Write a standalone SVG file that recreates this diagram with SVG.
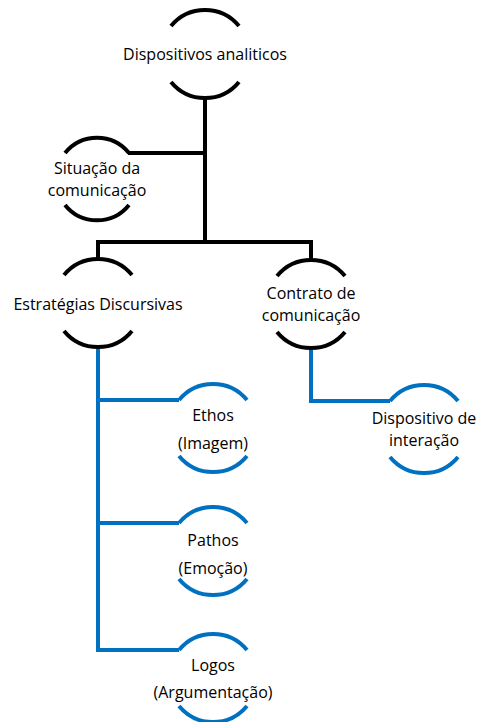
<svg xmlns="http://www.w3.org/2000/svg" xmlns:xlink="http://www.w3.org/1999/xlink" width="478" height="722" viewBox="0 0 478 722">
<style>
.k{fill:none;stroke:#000;stroke-width:4}
.b{fill:none;stroke:#0070C0;stroke-width:4}
text{font-family:"Open Sans","Liberation Sans",sans-serif;font-size:16px;fill:#000;text-anchor:middle}
</style>
<defs>
<path id="arcs" d="M-34 -28 A44 44 0 0 1 34 -28 M-34 28 A44 44 0 0 0 34 28"/>
<path id="arcsS" d="M-32 -26 A41 41 0 0 1 32 -26 M-32 26 A41 41 0 0 0 32 26"/>
</defs>
<rect width="478" height="722" fill="#fff"/>
<g id="connectors">
<path class="k" d="M205 98 V242 M128 153 H205 M96 242 H313 M98 242 V259 M311 242 V260"/>
<path class="b" d="M98 347 V650 H179 M98 400 H179 M98 523 H179"/>
<path class="b" d="M311 348 V401 H390"/>
</g>
<g id="n-dispositivos"><use xlink:href="#arcs" class="k" transform="translate(205,54)"/><text x="205" y="60">Dispositivos analiticos</text></g>
<g id="n-situacao"><use xlink:href="#arcsS" class="k" transform="translate(97,179)"/><text x="97" y="174">Situação da</text><text x="97" y="196">comunicação</text></g>
<g id="n-estrategias"><use xlink:href="#arcs" class="k" transform="translate(98,303)"/><text x="98" y="310">Estratégias Discursivas</text></g>
<g id="n-contrato"><use xlink:href="#arcs" class="k" transform="translate(311,304)"/><text x="311" y="299">Contrato de</text><text x="311" y="321">comunicação</text></g>
<g id="n-interacao"><use xlink:href="#arcs" class="b" transform="translate(424,429)"/><text x="424" y="424">Dispositivo de</text><text x="424" y="446">interação</text></g>
<g id="n-ethos"><use xlink:href="#arcs" class="b" transform="translate(213,428)"/><text x="213" y="421">Ethos</text><text x="213" y="449">(Imagem)</text></g>
<g id="n-pathos"><use xlink:href="#arcs" class="b" transform="translate(213,551)"/><text x="213" y="546">Pathos</text><text x="213" y="574">(Emoção)</text></g>
<g id="n-logos"><use xlink:href="#arcs" class="b" transform="translate(213,678)"/><text x="213" y="671">Logos</text><text x="213" y="698">(Argumentação)</text></g>
</svg>
